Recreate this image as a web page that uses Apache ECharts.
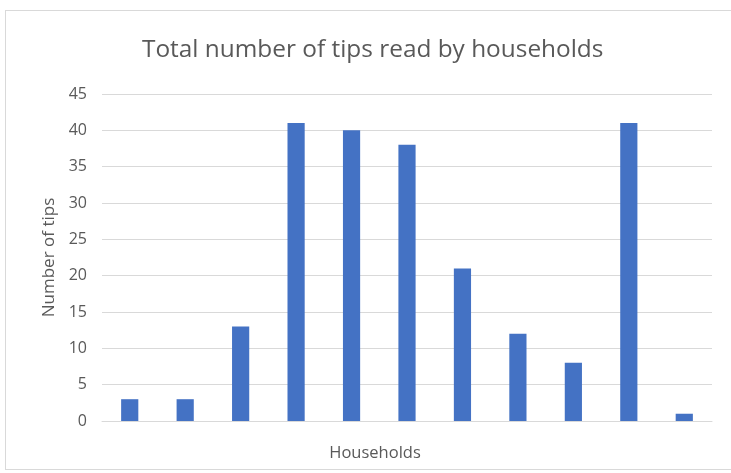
<!DOCTYPE html>
<html>
<head>
<meta charset="utf-8">
<script src="https://cdn.jsdelivr.net/npm/echarts@6/dist/echarts.min.js"></script>
<style>
  html, body { margin: 0; padding: 0; background: #fff; }
  #frame { position: absolute; left: 5px; top: 10px; width: 740px; height: 458px; border: 1px solid #d9d9d9; }
  #main { position: absolute; left: 0; top: 0; width: 731px; height: 473px; }
</style>
</head>
<body>
<div id="frame"></div>
<div id="main"></div>
<script>
const households = ['1', '2', '3', '4', '5', '6', '7', '8', '9', '10', '11'];
const tips = [3, 3, 13, 41, 40, 38, 21, 12, 8, 41, 1];

var myChart = echarts.init(document.getElementById('main'));
var option = {
  textStyle: { fontFamily: 'Open Sans' },
  title: {
    text: 'Total number of tips read by households',
    left: 137,
    top: 33,
    textStyle: { fontSize: 24.4, fontWeight: 'normal', color: '#595959', fontFamily: 'Open Sans' }
  },
  grid: { left: 102, right: 19, top: 94, bottom: 52 },
  xAxis: {
    type: 'category',
    data: households,
    name: 'Households',
    nameLocation: 'middle',
    nameGap: 24,
    // the name sits left of the plot centre in the original
    nameTextStyle: { fontSize: 16.5, color: '#595959', padding: [0, 64, 0, 0] },
    axisLine: { lineStyle: { color: '#d9d9d9' } },
    axisTick: { show: false },
    axisLabel: { show: false }
  },
  yAxis: {
    type: 'value',
    min: 0,
    max: 45,
    interval: 5,
    name: 'Number of tips',
    nameLocation: 'middle',
    nameGap: 44,
    nameTextStyle: { fontSize: 17, color: '#595959' },
    axisLine: { show: false },
    axisTick: { show: false },
    axisLabel: { fontSize: 16, color: '#595959', margin: 15 },
    splitLine: { lineStyle: { color: '#d9d9d9' } }
  },
  series: [
    {
      name: 'Tips',
      type: 'bar',
      data: tips,
      barWidth: '31%',
      itemStyle: { color: '#4472c4' }
    }
  ]
};
myChart.setOption(option);
</script>
</body>
</html>
